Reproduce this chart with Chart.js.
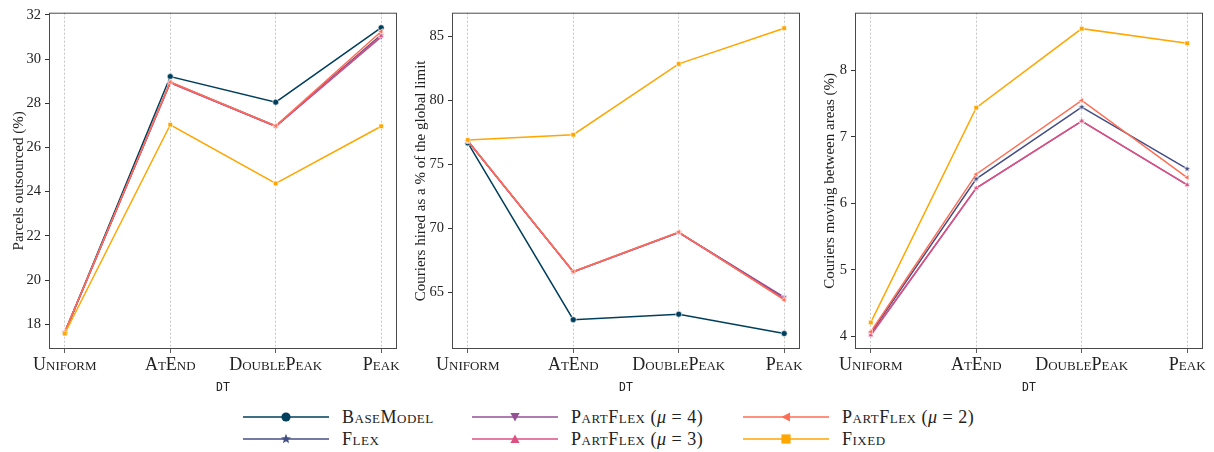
<!DOCTYPE html>
<html>
<head>
<meta charset="utf-8">
<script src="https://cdn.jsdelivr.net/npm/chart.js@4.4.0/dist/chart.umd.min.js"></script>
<style>
  html, body { margin: 0; padding: 0; background: #fff; }
  #wrap { position: relative; width: 1214px; height: 452px; overflow: hidden; }
  .panel { position: absolute; top: 0; width: 402px; height: 395px; }
  #legend { position: absolute; left: 0; top: 396px; width: 1214px; height: 56px;
            font-family: "Liberation Serif", serif; font-size: 18px; color: #222; letter-spacing: 0.5px; }
  .item { position: absolute; height: 22px; display: flex; align-items: center; white-space: nowrap; }
  .item svg { margin-right: 13px; }
  .sc { font-variant: small-caps; }
  .mu { font-style: italic; }
</style>
</head>
<body>
<div id="wrap">
  <div class="panel" style="left:0"><canvas id="c1"></canvas></div>
  <div class="panel" style="left:403px"><canvas id="c2"></canvas></div>
  <div class="panel" style="left:806px"><canvas id="c3"></canvas></div>
  <div id="legend"></div>
</div>
<script>
// distribution types on the x axis
const categories = ["Uniform", "AtEnd", "DoublePeak", "Peak"];
const seriesNames = ["BaseModel", "Flex", "PartFlex (μ = 4)", "PartFlex (μ = 3)", "PartFlex (μ = 2)", "Fixed"];
const seriesColors = ["#003f5c", "#444e86", "#955196", "#dd5182", "#ff6e54", "#ffa600"];

// Parcels outsourced (%)
const outsourcedBase = [17.62, 29.21, 28.05, 31.42];
const outsourcedFlex = [17.65, 28.95, 26.97, 31.10];
const outsourcedPF4 = [17.65, 28.93, 26.95, 31.00];
const outsourcedPF3 = [17.65, 28.93, 26.95, 31.05];
const outsourcedPF2 = [17.66, 28.96, 26.98, 31.25];
const outsourcedFixed = [17.58, 27.03, 24.37, 26.96];

// Couriers hired as a % of the global limit
const hiredBase = [76.70, 62.89, 63.32, 61.81];
const hiredFlex = [76.85, 66.64, 69.72, 64.60];
const hiredPF4 = [76.85, 66.62, 69.70, 64.66];
const hiredPF3 = [76.85, 66.62, 69.70, 64.50];
const hiredPF2 = [76.87, 66.65, 69.74, 64.43];
const hiredFixed = [76.93, 77.34, 82.87, 85.66];

// Couriers moving between areas (%) - base model has none
const movingBase = [null, null, null, null];
const movingFlex = [4.05, 6.37, 7.45, 6.52];
const movingPF4 = [4.02, 6.23, 7.24, 6.28];
const movingPF3 = [4.02, 6.23, 7.24, 6.28];
const movingPF2 = [4.07, 6.44, 7.55, 6.39];
const movingFixed = [4.21, 7.44, 8.63, 8.41];

// y tick labels per panel
const ticks1 = [18, 20, 22, 24, 26, 28, 30, 32];
const ticks2 = [65, 70, 75, 80, 85];
const ticks3 = [4, 5, 6, 7, 8];

const SERIF = "'Liberation Serif', serif";

// filled star marker for Flex
function starCanvas(color, r) {
  const s = Math.ceil(r * 2 + 3);
  const cv = document.createElement("canvas");
  cv.width = s; cv.height = s;
  const g = cv.getContext("2d");
  g.beginPath();
  for (let i = 0; i < 10; i++) {
    const rad = i % 2 === 0 ? r : r * 0.45;
    const a = -Math.PI / 2 + i * Math.PI / 5;
    const x = s / 2 + rad * Math.cos(a), y = s / 2 + rad * Math.sin(a);
    i === 0 ? g.moveTo(x, y) : g.lineTo(x, y);
  }
  g.closePath();
  g.fillStyle = color;
  g.fill();
  g.lineWidth = 0.6;
  g.strokeStyle = "#fff";
  g.stroke();
  return cv;
}

const markers = [
  { style: "circle", rot: 0, r: 3 },
  { style: starCanvas(seriesColors[1], 3.5), rot: 0, r: 3 },
  { style: "triangle", rot: 180, r: 3.2 },
  { style: "triangle", rot: 0, r: 3.2 },
  { style: "triangle", rot: -90, r: 3.2 },
  { style: "rect", rot: 0, r: 3.2 },
];

function toPoints(arr) {
  return arr.map((v, i) => ({ x: i, y: v }));
}

// box around the plotting area
const framePlugin = {
  id: "frame",
  afterDraw(chart) {
    const a = chart.chartArea, ctx = chart.ctx;
    ctx.save();
    ctx.strokeStyle = "#4a4a4a";
    ctx.lineWidth = 1;
    ctx.strokeRect(a.left + 0.5, a.top + 0.5, a.right - a.left - 1, a.bottom - a.top - 1);
    ctx.restore();
  },
};

function makeChart(id, seriesData, yMin, yMax, yTicks, yTitle, titlePad) {
  const datasets = seriesData.map((arr, i) => ({
    label: seriesNames[i],
    data: toPoints(arr),
    borderColor: seriesColors[i],
    backgroundColor: seriesColors[i],
    borderWidth: 1.5,
    pointStyle: markers[i].style,
    rotation: markers[i].rot,
    pointRadius: markers[i].r,
    pointBorderColor: "#fff",
    pointBorderWidth: 0.6,
    pointBackgroundColor: seriesColors[i],
    tension: 0,
    order: seriesData.length - i,
  }));

  return new Chart(document.getElementById(id), {
    type: "line",
    data: { datasets: datasets },
    plugins: [framePlugin],
    options: {
      responsive: false,
      animation: false,
      devicePixelRatio: 1,
      layout: { padding: { top: 8, right: 5, left: 0, bottom: 0 } },
      plugins: { legend: { display: false }, tooltip: { enabled: false } },
      scales: {
        x: {
          type: "linear",
          min: -0.15,
          max: 3.15,
          afterBuildTicks(scale) {
            scale.ticks = categories.map((c, i) => ({ value: i }));
          },
          afterFit(scale) { scale.height = 46; },
          border: { display: false, dash: [2, 2] },
          grid: {
            color: "#b8b8b8",
            lineWidth: 0.8,
            tickBorderDash: [],
            tickColor: "#333",
            tickLength: 4,
          },
          ticks: {
            color: "#222",
            padding: 1,
            maxRotation: 0,
            autoSkip: false,
            font: { family: SERIF, size: 18, weight: "small-caps" },
            callback: (v) => categories[v],
          },
          title: {
            display: true,
            text: "DT",
            color: "#222",
            padding: { top: 2, bottom: 0 },
            font: { family: "'DejaVu Sans Mono', monospace", size: 11.5 },
          },
        },
        y: {
          min: yMin,
          max: yMax,
          afterBuildTicks(scale) {
            scale.ticks = yTicks.map((v) => ({ value: v }));
          },
          afterFit(scale) { scale.width = 49; },
          border: { display: false },
          grid: {
            drawOnChartArea: false,
            tickColor: "#333",
            tickLength: 4,
          },
          ticks: {
            color: "#222",
            padding: 4,
            font: { family: SERIF, size: 14.5 },
          },
          title: {
            display: true,
            text: yTitle,
            color: "#222",
            padding: { top: titlePad, bottom: 0 },
            font: { family: SERIF, size: 15 },
          },
        },
      },
    },
  });
}

document.querySelectorAll("canvas").forEach((c) => { c.width = 402; c.height = 395; });

makeChart("c1",
  [outsourcedBase, outsourcedFlex, outsourcedPF4, outsourcedPF3, outsourcedPF2, outsourcedFixed],
  16.88, 32.1, ticks1, "Parcels outsourced (%)", 10);
makeChart("c2",
  [hiredBase, hiredFlex, hiredPF4, hiredPF3, hiredPF2, hiredFixed],
  60.6, 86.87, ticks2, "Couriers hired as a % of the global limit", 9);
makeChart("c3",
  [movingBase, movingFlex, movingPF4, movingPF3, movingPF2, movingFixed],
  3.81, 8.87, ticks3, "Couriers moving between areas (%)", 15);

// legend below the panels
function markerSvg(i) {
  const c = seriesColors[i];
  const w = 86, cx = 43, cy = 11;
  let shape = "";
  if (i === 0) shape = `<circle cx="${cx}" cy="${cy}" r="4.6" fill="${c}"/>`;
  if (i === 1) {
    const pts = [];
    for (let k = 0; k < 10; k++) {
      const rad = k % 2 === 0 ? 5.2 : 2.3;
      const a = -Math.PI / 2 + k * Math.PI / 5;
      pts.push((cx + rad * Math.cos(a)).toFixed(2) + "," + (cy + rad * Math.sin(a)).toFixed(2));
    }
    shape = `<polygon points="${pts.join(" ")}" fill="${c}"/>`;
  }
  if (i === 2) shape = `<polygon points="${cx - 4.6},${cy - 4} ${cx + 4.6},${cy - 4} ${cx},${cy + 4.6}" fill="${c}"/>`;
  if (i === 3) shape = `<polygon points="${cx - 4.6},${cy + 4} ${cx + 4.6},${cy + 4} ${cx},${cy - 4.6}" fill="${c}"/>`;
  if (i === 4) shape = `<polygon points="${cx + 4},${cy - 4.6} ${cx + 4},${cy + 4.6} ${cx - 4.6},${cy}" fill="${c}"/>`;
  if (i === 5) shape = `<rect x="${cx - 4.6}" y="${cy - 4.6}" width="9.2" height="9.2" fill="${c}"/>`;
  return `<svg width="${w}" height="22"><line x1="0" y1="${cy}" x2="${w}" y2="${cy}" stroke="${c}" stroke-width="1.6"/>${shape}</svg>`;
}

function labelHtml(name) {
  const m = name.match(/^(\w+) \(μ = (\d)\)$/);
  if (m) return `<span class="sc">${m[1]}</span>&nbsp;(<span class="mu">μ</span>&nbsp;=&nbsp;${m[2]})`;
  return `<span class="sc">${name}</span>`;
}

const legendPos = [
  [243, 10], [243, 32], [472, 10], [472, 32], [743, 10], [743, 32],
];
const legend = document.getElementById("legend");
seriesNames.forEach((name, i) => {
  const d = document.createElement("div");
  d.className = "item";
  d.style.left = legendPos[i][0] + "px";
  d.style.top = legendPos[i][1] + "px";
  d.innerHTML = markerSvg(i) + labelHtml(name);
  legend.appendChild(d);
});
</script>
</body>
</html>
